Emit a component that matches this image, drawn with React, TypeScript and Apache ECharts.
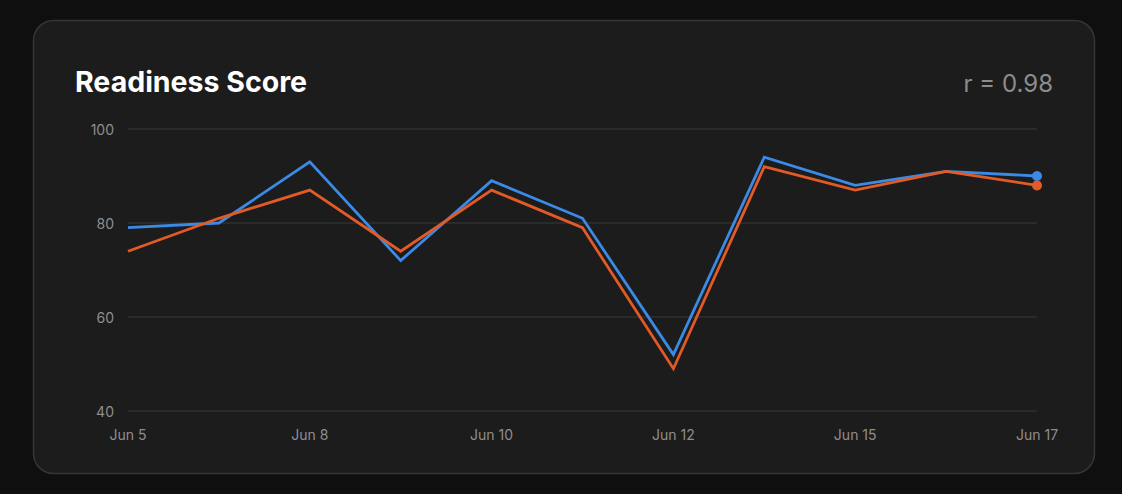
import React, { useEffect, useRef } from "react";
import * as echarts from "echarts";

const categories = ["Jun 5", "Jun 6", "Jun 8", "Jun 9", "Jun 10", "Jun 11", "Jun 12", "Jun 13", "Jun 15", "Jun 16", "Jun 17"];
const blueSeries = [79, 80, 93, 72, 89, 81, 52, 94, 88, 91, 90];
const orangeSeries = [74, 81, 87, 74, 87, 79, 49, 92, 87, 91, 88];
const yTicks = [40, 60, 80, 100];
const titleText = "Readiness Score";
const corrText = "r = 0.98";

export default function App() {
  const ref = useRef<HTMLDivElement>(null);
  useEffect(() => {
    if (!ref.current) return;
    const chart = echarts.init(ref.current, undefined, { renderer: "svg" });
    const last = categories.length - 1;
    const sizeFn = (_v: any, p: any) => (p.dataIndex === last ? 10 : 0);
    chart.setOption({
      animation: false,
      backgroundColor: "#0f0f0f",
      textStyle: { fontFamily: "Inter, 'Noto Sans', sans-serif" },
      graphic: [
        {
          type: "rect",
          shape: { x: 33.5, y: 20.5, width: 1061, height: 453, r: 20 },
          style: { fill: "#1c1c1c", stroke: "#353535", lineWidth: 1.5 },
          z: -10,
          silent: true,
        },
        {
          type: "text",
          x: 75,
          y: 81,
          style: {
            text: titleText,
            fill: "#ffffff",
            font: "700 28.5px Inter, 'Noto Sans', sans-serif",
            textVerticalAlign: "middle",
          },
        },
        {
          type: "text",
          x: 1053,
          y: 83,
          style: {
            text: corrText,
            fill: "#8c8c8c",
            font: "400 24px Inter, 'Noto Sans', sans-serif",
            textAlign: "right",
            textVerticalAlign: "middle",
          },
        },
      ],
      grid: { left: 128, right: 85, top: 129, bottom: 83, containLabel: false },
      xAxis: {
        type: "category",
        data: categories,
        boundaryGap: false,
        axisLine: { show: false },
        axisTick: { show: false },
        axisLabel: { interval: 1, color: "#8e8e8e", fontSize: 14, margin: 16 },
        splitLine: { show: false },
      },
      yAxis: {
        type: "value",
        min: yTicks[0],
        max: yTicks[yTicks.length - 1],
        interval: 20,
        axisLine: { show: false },
        axisTick: { show: false },
        axisLabel: { color: "#8e8e8e", fontSize: 14, margin: 14 },
        splitLine: { lineStyle: { color: "#2f2f2f", width: 1.5 } },
      },
      series: [
        {
          name: "Blue",
          type: "line",
          data: blueSeries,
          symbol: "circle",
          symbolSize: sizeFn,
          showAllSymbol: true,
          itemStyle: { color: "#3a8ae6" },
          lineStyle: { color: "#3a8ae6", width: 2.8, join: "miter" },
          z: 2,
        },
        {
          name: "Orange",
          type: "line",
          data: orangeSeries,
          symbol: "circle",
          symbolSize: sizeFn,
          showAllSymbol: true,
          itemStyle: { color: "#e25a26" },
          lineStyle: { color: "#e25a26", width: 2.8, join: "miter" },
          z: 3,
        },
      ],
    });
    return () => chart.dispose();
  }, []);
  return (
    <div
      ref={ref}
      style={{ position: "fixed", left: 0, top: 0, width: 1122, height: 494 }}
    />
  );
}
